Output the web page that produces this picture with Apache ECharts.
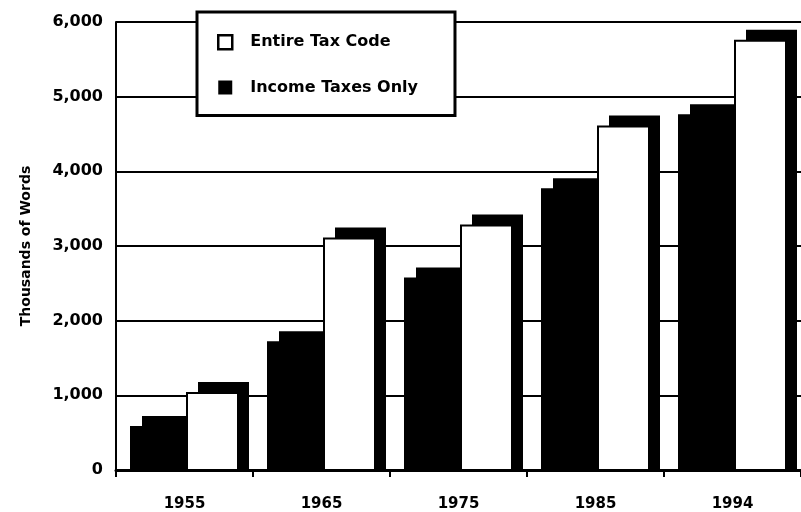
<!DOCTYPE html>
<html>
<head>
<meta charset="utf-8">
<title>Tax code length</title>
<script src="https://cdn.jsdelivr.net/npm/echarts@6/dist/echarts.min.js"></script>
<style>
  html, body { margin: 0; padding: 0; background: #fff; }
  #chart { width: 801px; height: 512px; }
</style>
</head>
<body>
<div id="chart"></div>
<script>
// data (thousands of words)
const years = ['1955', '1965', '1975', '1985', '1994'];
const incomeTaxesOnly = [575, 1710, 2565, 3760, 4750];
const entireTaxCode = [1030, 3100, 3275, 4600, 5750];
const yMin = 0;
const yMax = 6000;
const yStep = 1000;

const FONT = 'DejaVu Sans';
// box look: front face width, gap between the two boxes, depth of the extrusion
const BAR_W = 51;
const BAR_GAP = 5;
const DEPTH_X = 11;
const DEPTH_Y = 11;

// draws one extruded box per category, slot 0 = left, slot 1 = right
function boxRenderer(slot, fill) {
  return function (params, api) {
    const base = api.coord([api.value(0), 0]);
    const top = api.coord([api.value(0), api.value(1)]);
    const x = slot === 0 ? base[0] - BAR_GAP / 2 - BAR_W : base[0] + BAR_GAP / 2;
    const h = base[1] - top[1];
    return {
      type: 'group',
      children: [
        {
          type: 'rect',
          shape: { x: x + DEPTH_X, y: top[1] - DEPTH_Y, width: BAR_W, height: h + DEPTH_Y },
          style: { fill: '#000' }
        },
        {
          type: 'rect',
          shape: { x: x, y: top[1], width: BAR_W, height: h },
          style: { fill: fill, stroke: '#000', lineWidth: 2 }
        }
      ]
    };
  };
}

const chart = echarts.init(document.getElementById('chart'));

chart.setOption({
  backgroundColor: '#fff',
  animation: false,
  grid: { left: 116, right: -7, top: 22, bottom: 41 },
  legend: {
    orient: 'vertical',
    left: 197,
    top: 12,
    padding: [22, 37, 20, 20],
    itemWidth: 14,
    itemHeight: 14,
    itemGap: 29,
    backgroundColor: '#fff',
    borderColor: '#000',
    borderWidth: 3,
    selectedMode: false,
    textStyle: { fontFamily: FONT, fontWeight: 'bold', fontSize: 16, color: '#000', padding: [0, 0, 0, 13] },
    data: [
      { name: 'Entire Tax Code', icon: 'rect', itemStyle: { color: '#fff', borderColor: '#000', borderWidth: 2.5 } },
      { name: 'Income Taxes Only', icon: 'rect', itemStyle: { color: '#000' } }
    ]
  },
  xAxis: {
    type: 'category',
    data: years,
    axisLine: { lineStyle: { color: '#000', width: 3 } },
    axisTick: { show: true, interval: 0, length: 7, lineStyle: { color: '#000', width: 2 } },
    axisLabel: { margin: 27, fontFamily: FONT, fontWeight: 'bold', fontSize: 15, color: '#000' },
    splitLine: { show: false }
  },
  yAxis: {
    type: 'value',
    min: yMin,
    max: yMax,
    interval: yStep,
    name: 'Thousands of Words',
    nameLocation: 'middle',
    nameRotate: 90,
    nameGap: 83,
    nameTextStyle: { fontFamily: FONT, fontWeight: 'bold', fontSize: 14, color: '#000' },
    axisLine: { show: true, lineStyle: { color: '#000', width: 2 } },
    axisTick: { show: false },
    axisLabel: {
      margin: 13,
      fontFamily: FONT,
      fontWeight: 'bold',
      fontSize: 16,
      color: '#000',
      formatter: v => v.toLocaleString('en-US')
    },
    splitLine: { lineStyle: { color: '#000', width: 2 } }
  },
  series: [
    {
      name: 'Income Taxes Only',
      type: 'custom',
      itemStyle: { color: '#000' },
      encode: { x: 0, y: 1 },
      data: incomeTaxesOnly.map((v, i) => [i, v]),
      renderItem: boxRenderer(0, '#000')
    },
    {
      name: 'Entire Tax Code',
      type: 'custom',
      itemStyle: { color: '#fff' },
      encode: { x: 0, y: 1 },
      data: entireTaxCode.map((v, i) => [i, v]),
      renderItem: boxRenderer(1, '#fff')
    }
  ]
});
</script>
</body>
</html>
